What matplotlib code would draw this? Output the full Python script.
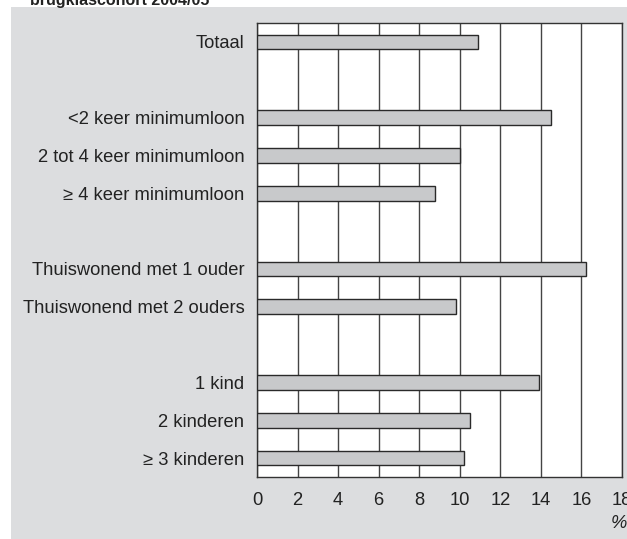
import matplotlib
matplotlib.use("Agg")
import matplotlib.pyplot as plt
from matplotlib.patches import Rectangle

plt.rcParams['font.family'] = ['Liberation Sans', 'DejaVu Sans']

categories = ["Totaal", "<2 keer minimumloon", "2 tot 4 keer minimumloon",
              "≥ 4 keer minimumloon", "Thuiswonend met 1 ouder",
              "Thuiswonend met 2 ouders", "1 kind", "2 kinderen", "≥ 3 kinderen"]
values = [10.9, 14.5, 10.0, 8.8, 16.2, 9.8, 13.9, 10.5, 10.2]
slots = [0, 2, 3, 4, 6, 7, 9, 10, 11]
xticks = [0, 2, 4, 6, 8, 10, 12, 14, 16, 18]

W, H = 627, 539
fig = plt.figure(figsize=(W/100, H/100), dpi=100, facecolor='white')
fig.patches.append(Rectangle((11/W, 0), 1 - 11/W, 1 - 7/H, transform=fig.transFigure,
                             facecolor='#dcdddf', edgecolor='none', zorder=-10))
fig.text(30/W, 1 - 5.5/H, "brugklascohort 2004/05", fontsize=11.5, fontweight='bold',
         va='baseline', ha='left', color='#222222')

ax = fig.add_axes([257/W, 1 - 477/H, (622-257)/W, (477-23)/H])
ax.set_zorder(2)
ax.set_facecolor('white')
ax.barh(slots, values, height=0.39, color='#c8c9cb', edgecolor='#2a2a2a', linewidth=1.0, zorder=3)
ax.set_xlim(0, 18)
ax.set_ylim(11.5, -0.5)
ax.set_xticks(xticks)
ax.set_xticklabels([str(t) for t in xticks], fontsize=13.2, color='#222222')
ax.set_yticks(slots)
ax.set_yticklabels(categories, fontsize=13.2, color='#222222')
ax.tick_params(axis='both', length=0)
ax.tick_params(axis='x', pad=11)
ax.tick_params(axis='y', pad=9)
ax.grid(axis='x', color='#444444', linewidth=1.0, zorder=1)
ax.set_axisbelow(True)
for s in ax.spines.values():
    s.set_color('#333333')
    s.set_linewidth(1.0)
fig.text(627/W, 1 - 523/H, "%", fontsize=13.2, style='italic', ha='right', va='center',
         color='#222222')

fig.savefig("out.png", dpi=100, facecolor=fig.get_facecolor())
